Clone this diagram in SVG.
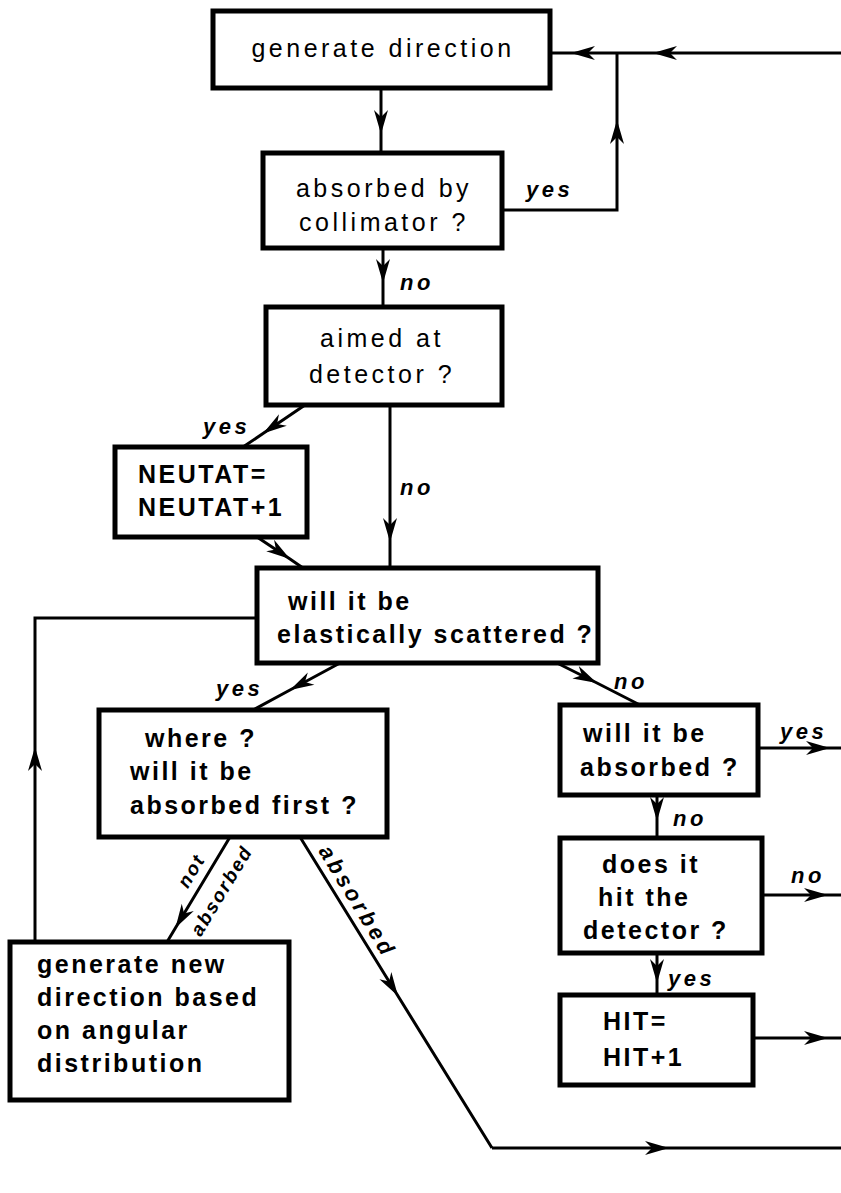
<svg xmlns="http://www.w3.org/2000/svg" width="841" height="1193" viewBox="0 0 841 1193">
<defs>
<marker id="ah" viewBox="-26 -9 28 18" markerWidth="28" markerHeight="18" refX="0" refY="0" markerUnits="userSpaceOnUse" orient="auto">
<path d="M0,0 L-24,-7 L-17,0 L-24,7 Z" fill="#000"/>
</marker>
</defs>
<style>
.box{fill:#fff;stroke:#000;stroke-width:5}
.t{font-family:"Liberation Sans",Arial,sans-serif;font-size:25px;fill:#000;letter-spacing:3.5px}
.b{font-family:"Liberation Sans",Arial,sans-serif;font-size:25px;font-weight:bold;fill:#000;letter-spacing:2.5px}
.lbl{font-family:"Liberation Sans",Arial,sans-serif;font-size:22px;font-weight:bold;font-style:italic;fill:#000;letter-spacing:3.5px}
.sm{font-size:19px;letter-spacing:2px}
.c{fill:none;stroke:#000;stroke-width:3}
.m{marker-mid:url(#ah)}
.e{marker-end:url(#ah)}
</style>
<rect width="841" height="1193" fill="#fff"/>
<g id="connectors">
<path class="c m" d="M381,89 L381,134 L381,152"/>
<path class="c e" d="M502,210 L617,210 L617,120"/>
<path class="c" d="M617,120 L617,53"/>
<path class="c m" d="M841,53 L653,53 L571,53 L550,53"/>
<path class="c m" d="M383,248 L383,283 L383,307"/>
<path class="c m" d="M305,405 L263,433.5 L243,447"/>
<path class="c m" d="M390,405 L390,542 L390,568"/>
<path class="c m" d="M257,537 L290,559 L303,568"/>
<path class="c e" d="M35,942 L35,747"/>
<path class="c" d="M35,747 L35,618 L257,618"/>
<path class="c m" d="M340,663 L290,690 L253,710"/>
<path class="c m" d="M557,663 L597,683 L640,705"/>
<path class="c m" d="M758,748 L830,748 L841,748"/>
<path class="c m" d="M657,795 L657,821 L657,838"/>
<path class="c m" d="M762,895 L828,895 L841,895"/>
<path class="c m" d="M657,953 L657,983 L657,995"/>
<path class="c m" d="M753,1038 L828,1038 L841,1038"/>
<path class="c m" d="M230,837 L175.4,928 L167,942"/>
<path class="c m" d="M300,837 L398,996 L492,1148"/>
<path class="c m" d="M492,1148 L669,1148 L841,1148"/>
<text class="lbl" x="526" y="197">yes</text>
<text class="lbl" x="400" y="290">no</text>
<text class="lbl" x="203" y="434">yes</text>
<text class="lbl" x="400" y="495">no</text>
<text class="lbl" x="216" y="696">yes</text>
<text class="lbl" x="614" y="689">no</text>
<text class="lbl" x="780" y="739">yes</text>
<text class="lbl" x="673" y="826">no</text>
<text class="lbl" x="791" y="883">no</text>
<text class="lbl" x="668" y="986">yes</text>
<text class="lbl sm" x="197" y="874" text-anchor="middle" transform="rotate(-59 197 874)">not</text>
<text class="lbl sm" x="227" y="894" text-anchor="middle" transform="rotate(-59 227 894)">absorbed</text>
<text class="lbl" x="318" y="851" transform="rotate(58.6 318 851)">absorbed</text>
</g>
<g id="generate-direction">
<rect class="box" x="213" y="11" width="337" height="77"/>
<text class="t" x="383" y="57" text-anchor="middle">generate direction</text>
</g>
<g id="absorbed-by-collimator">
<rect class="box" x="263" y="153" width="239" height="95"/>
<text class="t" x="384" y="197" text-anchor="middle">absorbed by</text>
<text class="t" x="384" y="231" text-anchor="middle">collimator ?</text>
</g>
<g id="aimed-at-detector">
<rect class="box" x="266" y="307" width="236" height="98"/>
<text class="t" x="382" y="347" text-anchor="middle">aimed at</text>
<text class="t" x="382" y="383" text-anchor="middle">detector ?</text>
</g>
<g id="neutat">
<rect class="box" x="115" y="447" width="192" height="90"/>
<text class="b" x="138" y="483">NEUTAT=</text>
<text class="b" x="138" y="516">NEUTAT+1</text>
</g>
<g id="elastically-scattered">
<rect class="box" x="257" y="568" width="341" height="95"/>
<text class="b" x="288" y="610">will it be</text>
<text class="b" x="277" y="643">elastically scattered ?</text>
</g>
<g id="where-absorbed-first">
<rect class="box" x="99" y="710" width="288" height="127"/>
<text class="b" x="145" y="747">where ?</text>
<text class="b" x="130" y="780">will it be</text>
<text class="b" x="130" y="814">absorbed first ?</text>
</g>
<g id="generate-new-direction">
<rect class="box" x="10" y="942" width="279" height="158"/>
<text class="b" x="37" y="973">generate new</text>
<text class="b" x="37" y="1006">direction based</text>
<text class="b" x="37" y="1039">on angular</text>
<text class="b" x="37" y="1072">distribution</text>
</g>
<g id="will-it-be-absorbed">
<rect class="box" x="560" y="705" width="198" height="90"/>
<text class="b" x="583" y="742">will it be</text>
<text class="b" x="580" y="776">absorbed ?</text>
</g>
<g id="does-it-hit-detector">
<rect class="box" x="560" y="838" width="202" height="115"/>
<text class="b" x="602" y="873">does it</text>
<text class="b" x="598" y="906">hit the</text>
<text class="b" x="583" y="939">detector ?</text>
</g>
<g id="hit">
<rect class="box" x="560" y="995" width="193" height="90"/>
<text class="b" x="603" y="1030">HIT=</text>
<text class="b" x="603" y="1066">HIT+1</text>
</g>
</svg>
